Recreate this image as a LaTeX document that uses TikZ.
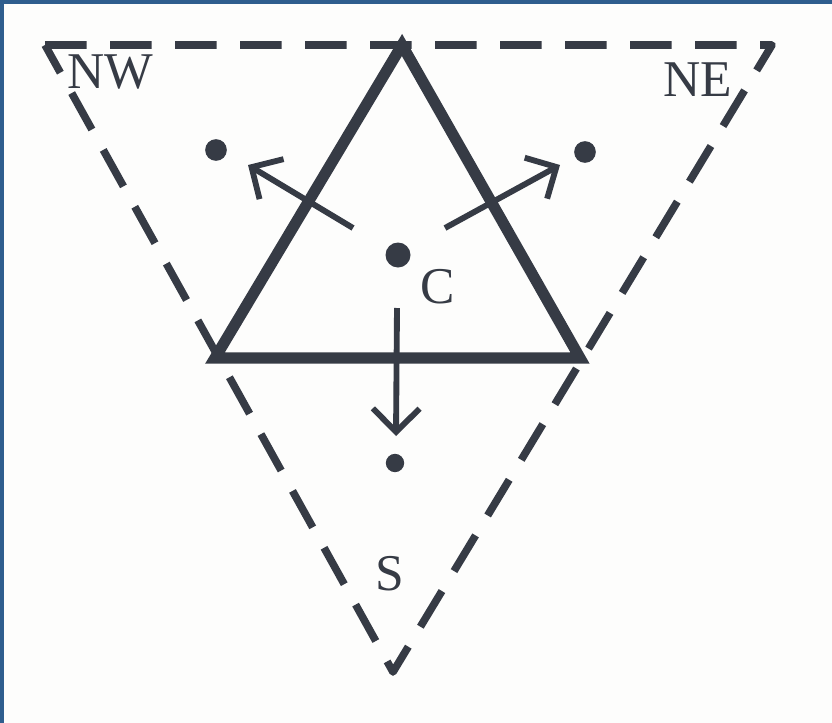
\documentclass[tikz,border=0pt]{standalone}
\usepackage{fontspec}
\setmainfont{Liberation Serif}
\usetikzlibrary{arrows.meta,positioning}
\definecolor{ink}{HTML}{363B45}
\definecolor{scanblue}{HTML}{2F5E8E}
\definecolor{paper}{HTML}{FDFDFC}
\tikzset{
  outer/.style={draw=ink,line width=6.5pt,dash pattern=on 1.25cm off 0.7cm,line join=round},
  inner/.style={draw=ink,line width=9.5pt,line join=miter},
  spot/.style={circle,fill=ink,inner sep=0pt,minimum size=#1},
  spot/.default=6.5mm,
  lbl/.style={font=\fontsize{44}{48}\selectfont,text=ink,inner sep=0pt},
  arr/.style={-{Straight Barb[length=7mm,width=14mm]},draw=ink,line width=5pt},
}
\begin{document}
\begin{tikzpicture}[x=0.03cm,y=-0.03cm]
  % scan frame
  \fill[scanblue] (0,0) rectangle (832,723);
  \fill[paper] (4,4) rectangle (832,723);
  \useasboundingbox (0,0) rectangle (832,723);

  % corners of the two triangles
  \coordinate (a) at (45,45);
  \coordinate (b) at (772,45);
  \coordinate (d) at (393,672);
  \coordinate (top) at (402,45);
  \coordinate (bl) at (215,358);
  \coordinate (br) at (580,358);

  \draw[outer] (a) -- (b) -- (d) -- cycle;
  \draw[inner] (top) -- (br) -- (bl) -- cycle;

  % dots
  \node[spot=7.5mm] (cdot) at (398,255) {};
  \node[spot] (nwdot) at (216,150) {};
  \node[spot] (nedot) at (585,152) {};
  \node[spot=5.5mm] (sdot) at (395,463) {};

  % labels
  \node[lbl] (nw) at (110,72) {NW};
  \node[lbl] (ne) at (698,80) {NE};
  \node[lbl] (c) at (438,287) {C};
  \node[lbl] (s) at (390,574) {S};

  % arrows out of the centre
  \coordinate (nwtail) at (353,228);
  \coordinate (nwhead) at (248,165);
  \coordinate (netail) at (445,228);
  \coordinate (nehead) at (560,165);
  \coordinate (stail) at (397,308);
  \coordinate (shead) at (396,436);
  \draw[arr] (nwtail) -- (nwhead);
  \draw[arr] (netail) -- (nehead);
  \draw[arr] (stail) -- (shead);
\end{tikzpicture}
\end{document}
